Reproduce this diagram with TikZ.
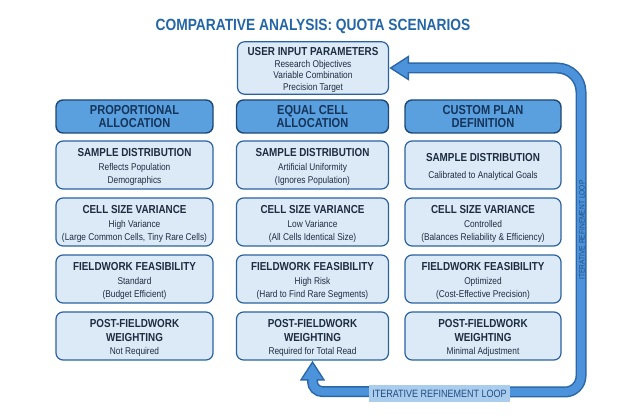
\documentclass[tikz,border=0pt]{standalone}
\usepackage{fontspec}
\setmainfont[FakeStretch=0.85]{Liberation Sans}
\usetikzlibrary{arrows.meta}

\definecolor{titleblue}{HTML}{2366A6}
\definecolor{headfill}{HTML}{5A9FDE}
\definecolor{headedge}{HTML}{1D4775}
\definecolor{headtext}{HTML}{15345A}
\definecolor{cellfill}{HTML}{DCEAF8}
\definecolor{celledge}{HTML}{2A62A0}
\definecolor{celltext}{HTML}{1E2C40}
\definecolor{loopfill}{HTML}{4C93DB}
\definecolor{loopedge}{HTML}{2A66A8}
\definecolor{looplabel}{HTML}{AACDEE}
\definecolor{looptext}{HTML}{1F4C80}

\tikzset{
    headbox/.style={draw=headedge, fill=headfill, line width=1.4pt, rounded corners=7pt,
        minimum height=33pt, align=center, text=headtext, inner sep=2pt,
        font=\bfseries\fontsize{13}{13.5}\selectfont},
    cellbox/.style={draw=celledge, fill=cellfill, line width=1.2pt, rounded corners=7pt,
        minimum height=48pt, align=center, text=celltext, inner sep=2pt,
        font=\fontsize{9.8}{13.3}\selectfont}
}
\newcommand{\boxtitle}[1]{{\bfseries\fontsize{11.6}{13}\selectfont\rule{0pt}{12.2pt}#1}}

\begin{document}
\begin{tikzpicture}[x=1pt, y=-1pt]
        \useasboundingbox (0,0) rectangle (624,419);
        \node[text=titleblue, font=\bfseries\fontsize{16.2}{18}\selectfont] (title) at (313,26) {COMPARATIVE ANALYSIS: QUOTA SCENARIOS};
        \node[cellbox, minimum width=151pt, minimum height=52pt, font=\fontsize{9.8}{11.4}\selectfont] (input) at (313,68)
            {\boxtitle{USER INPUT PARAMETERS}\\Research Objectives\\Variable Combination\\Precision Target};
        % scenario headers
        \foreach \name/\x/\w/\txt in {
            prop/134.5/157/{PROPORTIONAL\\ALLOCATION},
            equal/312.5/152/{EQUAL CELL\\ALLOCATION},
            custom/483/156/{CUSTOM PLAN\\DEFINITION}} {
            \node[headbox, minimum width=\w pt] (\name) at (\x,116.5) {\txt};
        }
        % comparison cells
        \foreach \name/\x/\y/\w/\txt in {
            prop1/134.5/165/157/{\boxtitle{SAMPLE DISTRIBUTION}\\Reflects Population\\Demographics},
            prop2/134.5/222/157/{\boxtitle{CELL SIZE VARIANCE}\\High Variance\\(Large Common Cells, Tiny Rare Cells)},
            prop3/134.5/279/157/{\boxtitle{FIELDWORK FEASIBILITY}\\Standard\\(Budget Efficient)},
            prop4/134.5/336/157/{\boxtitle{POST-FIELDWORK}\\\boxtitle{WEIGHTING}\\Not Required},
            equal1/312.5/165/152/{\boxtitle{SAMPLE DISTRIBUTION}\\Artificial Uniformity\\(Ignores Population)},
            equal2/312.5/222/152/{\boxtitle{CELL SIZE VARIANCE}\\Low Variance\\(All Cells Identical Size)},
            equal3/312.5/279/152/{\boxtitle{FIELDWORK FEASIBILITY}\\High Risk\\(Hard to Find Rare Segments)},
            equal4/312.5/336/152/{\boxtitle{POST-FIELDWORK}\\\boxtitle{WEIGHTING}\\Required for Total Read},
            custom1/483/165/156/{\boxtitle{SAMPLE DISTRIBUTION}\\[4pt]Calibrated to Analytical Goals},
            custom2/483/222/156/{\boxtitle{CELL SIZE VARIANCE}\\Controlled\\(Balances Reliability \& Efficiency)},
            custom3/483/279/156/{\boxtitle{FIELDWORK FEASIBILITY}\\Optimized\\(Cost-Effective Precision)},
            custom4/483/336/156/{\boxtitle{POST-FIELDWORK}\\\boxtitle{WEIGHTING}\\Minimal Adjustment}} {
            \node[cellbox, minimum width=\w pt] (\name) at (\x,\y) {\txt};
        }
        % refinement loop, edge then fill
        \foreach \lw/\col/\len/\wid/\sh in {11/loopedge/20/24/0, 8/loopfill/15.5/19/3} {
            \draw[line width=\lw pt, draw=\col, shorten <=\sh pt, shorten >=\sh pt,
                {Triangle[length=\len pt, width=\wid pt]}-{Triangle[length=\len pt, width=\wid pt]}]
                (equal4.south) [rounded corners=10pt] -- ++(0,31)
                [rounded corners=16pt] -- (581,392)
                [rounded corners=24pt] -- (581,68) -- (input.east);
        }
        \node[fill=looplabel, text=looptext, font=\fontsize{10.6}{11}\selectfont, minimum width=141pt,
            minimum height=17pt, inner sep=0pt] (bottomlabel) at (439.5,394) {ITERATIVE REFINEMENT LOOP};
        \node[rotate=90, text=looptext, font=\fontsize{7.8}{8}\selectfont, inner sep=0pt] (sidelabel) at (582,230) {ITERATIVE REFINEMENT LOOP};
\end{tikzpicture}
\end{document}
